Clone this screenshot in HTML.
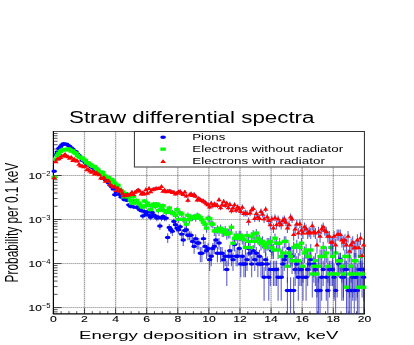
<!DOCTYPE html>
<html><head><meta charset="utf-8"><title>Straw differential spectra</title>
<style>html,body{margin:0;padding:0;background:#fff;}body{width:414px;height:345px;overflow:hidden;font-family:"Liberation Sans",sans-serif;}</style>
</head><body>
<svg width="414" height="345" viewBox="0 0 414 345" style="display:block" font-family="Liberation Sans, sans-serif">
<rect x="0" y="0" width="414" height="345" fill="#fff"/>
<filter id="b" x="0" y="0" width="100%" height="100%" filterUnits="userSpaceOnUse"><feGaussianBlur stdDeviation="0.45 0.3"/></filter>
<g filter="url(#b)">
<path d="M84.50 131.5V313.9M115.60 131.5V313.9M146.70 131.5V313.9M177.80 131.5V313.9M208.90 131.5V313.9M240.00 131.5V313.9M271.10 131.5V313.9M302.20 131.5V313.9M333.30 131.5V313.9" stroke="#000" stroke-width="1.3" stroke-dasharray="1.4 0.6" fill="none" opacity="0.36"/>
<path d="M53.4 307.59H364.4M53.4 263.56H364.4M53.4 219.53H364.4M53.4 175.50H364.4" stroke="#000" stroke-width="0.9" stroke-dasharray="1 1" fill="none" opacity="0.6"/>
<path d="M53.4 131.5H364.4" stroke="#444" stroke-width="0.9"/>
<path d="M364.4 131.5V313.9" stroke="#222" stroke-width="1.0"/>
<path d="M52.8 313.9H364.9" stroke="#000" stroke-width="1.1"/>
<path d="M53.4 131.1V313.9" stroke="#000" stroke-width="1.2"/>
<path d="M53.40 313.9v-5.6M61.17 313.9v-2.7M68.95 313.9v-2.7M76.72 313.9v-2.7M84.50 313.9v-5.6M92.28 313.9v-2.7M100.05 313.9v-2.7M107.82 313.9v-2.7M115.60 313.9v-5.6M123.38 313.9v-2.7M131.15 313.9v-2.7M138.93 313.9v-2.7M146.70 313.9v-5.6M154.47 313.9v-2.7M162.25 313.9v-2.7M170.03 313.9v-2.7M177.80 313.9v-5.6M185.58 313.9v-2.7M193.35 313.9v-2.7M201.12 313.9v-2.7M208.90 313.9v-5.6M216.68 313.9v-2.7M224.45 313.9v-2.7M232.22 313.9v-2.7M240.00 313.9v-5.6M247.78 313.9v-2.7M255.55 313.9v-2.7M263.32 313.9v-2.7M271.10 313.9v-5.6M278.88 313.9v-2.7M286.65 313.9v-2.7M294.43 313.9v-2.7M302.20 313.9v-5.6M309.97 313.9v-2.7M317.75 313.9v-2.7M325.52 313.9v-2.7M333.30 313.9v-5.6M341.07 313.9v-2.7M348.85 313.9v-2.7M356.62 313.9v-2.7M364.40 313.9v-5.6M53.4 311.86h4.2M53.4 309.60h4.2M53.4 307.59h8.2M53.4 294.34h4.2M53.4 286.58h4.2M53.4 281.08h4.2M53.4 276.81h4.2M53.4 273.33h4.2M53.4 270.38h4.2M53.4 267.83h4.2M53.4 265.57h4.2M53.4 263.56h8.2M53.4 250.31h4.2M53.4 242.55h4.2M53.4 237.05h4.2M53.4 232.78h4.2M53.4 229.30h4.2M53.4 226.35h4.2M53.4 223.80h4.2M53.4 221.54h4.2M53.4 219.53h8.2M53.4 206.28h4.2M53.4 198.52h4.2M53.4 193.02h4.2M53.4 188.75h4.2M53.4 185.27h4.2M53.4 182.32h4.2M53.4 179.77h4.2M53.4 177.51h4.2M53.4 175.50h8.2M53.4 162.25h4.2M53.4 154.49h4.2M53.4 148.99h4.2M53.4 144.72h4.2M53.4 141.24h4.2M53.4 138.29h4.2M53.4 135.74h4.2M53.4 133.48h4.2" stroke="#000" stroke-width="0.85" fill="none" opacity="0.8"/>
<clipPath id="c"><rect x="53.4" y="131.5" width="311.0" height="182.39999999999998"/></clipPath>
<g>
<path clip-path="url(#c)" d="M54.18 170.40V172.10M55.73 154.12V155.22M57.29 151.34V152.36M58.84 148.09V149.02M60.40 146.35V147.24M61.95 144.62V145.48M63.51 143.37V144.20M65.06 143.75V144.58M66.62 143.80V144.64M68.17 144.93V145.79M69.73 145.93V146.81M71.28 147.51V148.43M72.84 148.73V149.69M74.39 150.61V151.61M75.95 151.30V152.32M77.50 153.71V154.79M79.06 155.01V156.14M80.61 156.63V157.80M82.17 159.66V160.93M83.72 160.21V161.50M85.28 161.77V163.12M86.83 164.10V165.53M88.39 164.25V165.69M89.94 164.41V165.86M91.50 166.18V167.69M93.05 167.27V168.83M94.61 169.09V170.73M96.16 170.48V172.18M97.72 169.20V170.84M99.27 172.54V174.33M100.83 173.21V175.03M102.38 177.12V179.15M103.94 177.12V179.15M105.49 178.70V180.82M107.05 178.99V181.12M108.60 181.79V184.09M110.16 183.99V186.43M111.71 185.40V187.94M113.27 187.64V190.34M114.82 193.26V196.40M116.38 190.50V193.42M117.93 189.98V192.85M119.49 192.89V196.00M121.04 195.48V198.82M122.60 194.67V197.93M124.15 197.85V201.41M125.71 197.23V200.73M127.26 198.66V202.30M128.82 202.89V206.99M130.37 204.18V208.42M131.93 199.16V202.85M133.48 204.86V209.18M135.04 200.56V204.40M136.59 205.32V209.70M138.15 204.86V209.18M139.70 207.57V212.23M141.26 208.39V213.16M142.81 213.47V218.98M144.37 209.24V214.13M145.92 212.07V217.35M147.48 209.54V214.46M149.03 212.76V218.15M150.59 214.61V220.29M152.14 210.14V215.14M153.70 212.76V218.15M155.25 213.47V218.98M156.81 215.40V221.21M158.36 214.61V220.29M159.92 222.80V229.99M161.47 215.40V221.21M163.03 213.84V219.40M164.58 215.40V221.21M166.14 215.40V221.21M167.69 233.16V242.93M169.25 224.06V231.51M170.80 226.12V234.04M172.36 227.64V235.93M173.91 218.49V224.83M175.47 221.62V228.57M177.02 224.72V232.32M178.58 226.12V234.04M180.13 223.42V230.73M181.69 230.19V239.13M183.24 235.45V245.93M184.80 226.87V234.96M186.35 226.12V234.04M187.91 231.13V240.32M189.46 231.13V240.32M191.02 231.13V240.32M192.57 236.72V247.61M194.13 241.16V253.69M195.68 234.27V244.38M197.24 238.08V249.44M198.79 238.08V249.44M200.35 247.11V262.32M201.90 247.11V262.32M203.46 234.27V244.38M205.01 241.16V253.69M206.57 244.90V259.03M208.12 242.93V256.19M209.68 252.60V271.01M211.23 249.64V266.22M212.79 242.93V256.19M214.34 241.16V253.69M215.90 235.45V245.93M217.45 247.11V262.32M219.01 238.08V249.44M220.56 247.11V262.32M222.12 247.11V262.32M223.67 252.60V271.01M225.23 249.64V266.22M226.78 260.72V285.91M228.34 249.64V266.22M229.89 244.90V259.03M231.45 249.64V266.22M233.00 252.60V271.01M234.56 239.56V251.46M236.11 249.64V266.22M237.67 249.64V266.22M239.22 242.93V256.19M240.78 256.19V277.19M242.33 249.64V266.22M243.89 256.19V277.19M245.44 256.19V277.19M247.00 252.60V271.01M248.55 242.93V256.19M250.11 247.11V262.32M251.66 256.19V277.19M253.22 244.90V259.03M254.77 252.60V271.01M256.33 247.11V262.32M257.88 256.19V277.19M259.44 249.64V266.22M260.99 256.19V277.19M262.55 256.19V277.19M264.10 266.97V300.67M265.66 252.60V271.01M267.21 256.19V277.19M268.77 266.97V300.67M270.32 260.72V285.91M271.88 244.90V259.03M273.43 260.72V285.91M274.99 260.72V285.91M276.54 260.72V285.91M278.10 266.97V300.67M281.21 266.97V300.67M282.76 256.19V277.19M284.32 252.60V271.01M285.87 249.64V266.22M287.43 277.19V318.90M288.98 242.93V256.19M290.54 277.19V318.90M292.09 249.64V266.22M293.65 277.19V318.90M295.20 260.72V285.91M296.76 256.19V277.19M298.31 266.97V300.67M299.87 260.72V285.91M301.42 260.72V285.91M302.98 266.97V300.67M306.09 266.97V300.67M307.64 260.72V285.91M309.20 256.19V277.19M310.75 252.60V271.01M313.86 256.19V277.19M315.42 260.72V285.91M316.97 277.19V318.90M318.53 277.19V318.90M320.08 277.19V318.90M321.64 266.97V300.67M323.19 260.72V285.91M326.30 266.97V300.67M327.86 277.19V318.90M329.41 260.72V285.91M330.97 260.72V285.91M332.52 260.72V285.91M334.08 266.97V300.67M335.63 277.19V318.90M338.74 256.19V277.19M340.30 252.60V271.01M341.85 266.97V300.67M343.41 266.97V300.67M344.96 260.72V285.91M346.52 260.72V285.91M348.07 277.19V318.90M349.63 277.19V318.90M351.18 277.19V318.90M352.74 266.97V300.67M354.29 277.19V318.90M355.85 266.97V300.67M357.40 277.19V318.90M358.96 260.72V285.91M360.51 260.72V285.91M362.07 260.72V285.91M363.62 266.97V300.67" stroke="#2a2ab8" stroke-width="1.1" fill="none" opacity="0.74"/>
<g fill="#0000ff"><ellipse cx="54.18" cy="171.23" rx="2.85" ry="1.7"/><ellipse cx="55.73" cy="154.66" rx="2.85" ry="1.7"/><ellipse cx="57.29" cy="151.84" rx="2.85" ry="1.7"/><ellipse cx="58.84" cy="148.55" rx="2.85" ry="1.7"/><ellipse cx="60.40" cy="146.79" rx="2.85" ry="1.7"/><ellipse cx="61.95" cy="145.05" rx="2.85" ry="1.7"/><ellipse cx="63.51" cy="143.78" rx="2.85" ry="1.7"/><ellipse cx="65.06" cy="144.16" rx="2.85" ry="1.7"/><ellipse cx="66.62" cy="144.22" rx="2.85" ry="1.7"/><ellipse cx="68.17" cy="145.35" rx="2.85" ry="1.7"/><ellipse cx="69.73" cy="146.37" rx="2.85" ry="1.7"/><ellipse cx="71.28" cy="147.96" rx="2.85" ry="1.7"/><ellipse cx="72.84" cy="149.20" rx="2.85" ry="1.7"/><ellipse cx="74.39" cy="151.11" rx="2.85" ry="1.7"/><ellipse cx="75.95" cy="151.80" rx="2.85" ry="1.7"/><ellipse cx="77.50" cy="154.24" rx="2.85" ry="1.7"/><ellipse cx="79.06" cy="155.57" rx="2.85" ry="1.7"/><ellipse cx="80.61" cy="157.21" rx="2.85" ry="1.7"/><ellipse cx="82.17" cy="160.29" rx="2.85" ry="1.7"/><ellipse cx="83.72" cy="160.85" rx="2.85" ry="1.7"/><ellipse cx="85.28" cy="162.43" rx="2.85" ry="1.7"/><ellipse cx="86.83" cy="164.80" rx="2.85" ry="1.7"/><ellipse cx="88.39" cy="164.96" rx="2.85" ry="1.7"/><ellipse cx="89.94" cy="165.12" rx="2.85" ry="1.7"/><ellipse cx="91.50" cy="166.92" rx="2.85" ry="1.7"/><ellipse cx="93.05" cy="168.03" rx="2.85" ry="1.7"/><ellipse cx="94.61" cy="169.89" rx="2.85" ry="1.7"/><ellipse cx="96.16" cy="171.31" rx="2.85" ry="1.7"/><ellipse cx="97.72" cy="170.00" rx="2.85" ry="1.7"/><ellipse cx="99.27" cy="173.42" rx="2.85" ry="1.7"/><ellipse cx="100.83" cy="174.10" rx="2.85" ry="1.7"/><ellipse cx="102.38" cy="178.11" rx="2.85" ry="1.7"/><ellipse cx="103.94" cy="178.11" rx="2.85" ry="1.7"/><ellipse cx="105.49" cy="179.73" rx="2.85" ry="1.7"/><ellipse cx="107.05" cy="180.03" rx="2.85" ry="1.7"/><ellipse cx="108.60" cy="182.90" rx="2.85" ry="1.7"/><ellipse cx="110.16" cy="185.17" rx="2.85" ry="1.7"/><ellipse cx="111.71" cy="186.63" rx="2.85" ry="1.7"/><ellipse cx="113.27" cy="188.94" rx="2.85" ry="1.7"/><ellipse cx="114.82" cy="194.76" rx="2.85" ry="1.7"/><ellipse cx="116.38" cy="191.91" rx="2.85" ry="1.7"/><ellipse cx="117.93" cy="191.36" rx="2.85" ry="1.7"/><ellipse cx="119.49" cy="194.38" rx="2.85" ry="1.7"/><ellipse cx="121.04" cy="197.08" rx="2.85" ry="1.7"/><ellipse cx="122.60" cy="196.23" rx="2.85" ry="1.7"/><ellipse cx="124.15" cy="199.55" rx="2.85" ry="1.7"/><ellipse cx="125.71" cy="198.90" rx="2.85" ry="1.7"/><ellipse cx="127.26" cy="200.39" rx="2.85" ry="1.7"/><ellipse cx="128.82" cy="204.83" rx="2.85" ry="1.7"/><ellipse cx="130.37" cy="206.18" rx="2.85" ry="1.7"/><ellipse cx="131.93" cy="200.92" rx="2.85" ry="1.7"/><ellipse cx="133.48" cy="206.89" rx="2.85" ry="1.7"/><ellipse cx="135.04" cy="202.39" rx="2.85" ry="1.7"/><ellipse cx="136.59" cy="207.39" rx="2.85" ry="1.7"/><ellipse cx="138.15" cy="206.89" rx="2.85" ry="1.7"/><ellipse cx="139.70" cy="209.76" rx="2.85" ry="1.7"/><ellipse cx="141.26" cy="210.62" rx="2.85" ry="1.7"/><ellipse cx="142.81" cy="216.03" rx="2.85" ry="1.7"/><ellipse cx="144.37" cy="211.53" rx="2.85" ry="1.7"/><ellipse cx="145.92" cy="214.53" rx="2.85" ry="1.7"/><ellipse cx="147.48" cy="211.84" rx="2.85" ry="1.7"/><ellipse cx="149.03" cy="215.26" rx="2.85" ry="1.7"/><ellipse cx="150.59" cy="217.24" rx="2.85" ry="1.7"/><ellipse cx="152.14" cy="212.48" rx="2.85" ry="1.7"/><ellipse cx="153.70" cy="215.26" rx="2.85" ry="1.7"/><ellipse cx="155.25" cy="216.03" rx="2.85" ry="1.7"/><ellipse cx="156.81" cy="218.09" rx="2.85" ry="1.7"/><ellipse cx="158.36" cy="217.24" rx="2.85" ry="1.7"/><ellipse cx="159.92" cy="226.06" rx="2.85" ry="1.7"/><ellipse cx="161.47" cy="218.09" rx="2.85" ry="1.7"/><ellipse cx="163.03" cy="216.42" rx="2.85" ry="1.7"/><ellipse cx="164.58" cy="218.09" rx="2.85" ry="1.7"/><ellipse cx="166.14" cy="218.09" rx="2.85" ry="1.7"/><ellipse cx="167.69" cy="237.43" rx="2.85" ry="1.7"/><ellipse cx="169.25" cy="227.42" rx="2.85" ry="1.7"/><ellipse cx="170.80" cy="229.68" rx="2.85" ry="1.7"/><ellipse cx="172.36" cy="231.34" rx="2.85" ry="1.7"/><ellipse cx="173.91" cy="221.40" rx="2.85" ry="1.7"/><ellipse cx="175.47" cy="224.78" rx="2.85" ry="1.7"/><ellipse cx="177.02" cy="228.15" rx="2.85" ry="1.7"/><ellipse cx="178.58" cy="229.68" rx="2.85" ry="1.7"/><ellipse cx="180.13" cy="226.73" rx="2.85" ry="1.7"/><ellipse cx="181.69" cy="234.14" rx="2.85" ry="1.7"/><ellipse cx="183.24" cy="239.98" rx="2.85" ry="1.7"/><ellipse cx="184.80" cy="230.49" rx="2.85" ry="1.7"/><ellipse cx="186.35" cy="229.68" rx="2.85" ry="1.7"/><ellipse cx="187.91" cy="235.18" rx="2.85" ry="1.7"/><ellipse cx="189.46" cy="235.18" rx="2.85" ry="1.7"/><ellipse cx="191.02" cy="235.18" rx="2.85" ry="1.7"/><ellipse cx="192.57" cy="241.40" rx="2.85" ry="1.7"/><ellipse cx="194.13" cy="246.42" rx="2.85" ry="1.7"/><ellipse cx="195.68" cy="238.66" rx="2.85" ry="1.7"/><ellipse cx="197.24" cy="242.93" rx="2.85" ry="1.7"/><ellipse cx="198.79" cy="242.93" rx="2.85" ry="1.7"/><ellipse cx="200.35" cy="253.24" rx="2.85" ry="1.7"/><ellipse cx="201.90" cy="253.24" rx="2.85" ry="1.7"/><ellipse cx="203.46" cy="238.66" rx="2.85" ry="1.7"/><ellipse cx="205.01" cy="246.42" rx="2.85" ry="1.7"/><ellipse cx="206.57" cy="250.68" rx="2.85" ry="1.7"/><ellipse cx="208.12" cy="248.43" rx="2.85" ry="1.7"/><ellipse cx="209.68" cy="259.67" rx="2.85" ry="1.7"/><ellipse cx="211.23" cy="256.19" rx="2.85" ry="1.7"/><ellipse cx="212.79" cy="248.43" rx="2.85" ry="1.7"/><ellipse cx="214.34" cy="246.42" rx="2.85" ry="1.7"/><ellipse cx="215.90" cy="239.98" rx="2.85" ry="1.7"/><ellipse cx="217.45" cy="253.24" rx="2.85" ry="1.7"/><ellipse cx="219.01" cy="242.93" rx="2.85" ry="1.7"/><ellipse cx="220.56" cy="253.24" rx="2.85" ry="1.7"/><ellipse cx="222.12" cy="253.24" rx="2.85" ry="1.7"/><ellipse cx="223.67" cy="259.67" rx="2.85" ry="1.7"/><ellipse cx="225.23" cy="256.19" rx="2.85" ry="1.7"/><ellipse cx="226.78" cy="269.44" rx="2.85" ry="1.7"/><ellipse cx="228.34" cy="256.19" rx="2.85" ry="1.7"/><ellipse cx="229.89" cy="250.68" rx="2.85" ry="1.7"/><ellipse cx="231.45" cy="256.19" rx="2.85" ry="1.7"/><ellipse cx="233.00" cy="259.67" rx="2.85" ry="1.7"/><ellipse cx="234.56" cy="244.59" rx="2.85" ry="1.7"/><ellipse cx="236.11" cy="256.19" rx="2.85" ry="1.7"/><ellipse cx="237.67" cy="256.19" rx="2.85" ry="1.7"/><ellipse cx="239.22" cy="248.43" rx="2.85" ry="1.7"/><ellipse cx="240.78" cy="263.94" rx="2.85" ry="1.7"/><ellipse cx="242.33" cy="256.19" rx="2.85" ry="1.7"/><ellipse cx="243.89" cy="263.94" rx="2.85" ry="1.7"/><ellipse cx="245.44" cy="263.94" rx="2.85" ry="1.7"/><ellipse cx="247.00" cy="259.67" rx="2.85" ry="1.7"/><ellipse cx="248.55" cy="248.43" rx="2.85" ry="1.7"/><ellipse cx="250.11" cy="253.24" rx="2.85" ry="1.7"/><ellipse cx="251.66" cy="263.94" rx="2.85" ry="1.7"/><ellipse cx="253.22" cy="250.68" rx="2.85" ry="1.7"/><ellipse cx="254.77" cy="259.67" rx="2.85" ry="1.7"/><ellipse cx="256.33" cy="253.24" rx="2.85" ry="1.7"/><ellipse cx="257.88" cy="263.94" rx="2.85" ry="1.7"/><ellipse cx="259.44" cy="256.19" rx="2.85" ry="1.7"/><ellipse cx="260.99" cy="263.94" rx="2.85" ry="1.7"/><ellipse cx="262.55" cy="263.94" rx="2.85" ry="1.7"/><ellipse cx="264.10" cy="277.19" rx="2.85" ry="1.7"/><ellipse cx="265.66" cy="259.67" rx="2.85" ry="1.7"/><ellipse cx="267.21" cy="263.94" rx="2.85" ry="1.7"/><ellipse cx="268.77" cy="277.19" rx="2.85" ry="1.7"/><ellipse cx="270.32" cy="269.44" rx="2.85" ry="1.7"/><ellipse cx="271.88" cy="250.68" rx="2.85" ry="1.7"/><ellipse cx="273.43" cy="269.44" rx="2.85" ry="1.7"/><ellipse cx="274.99" cy="269.44" rx="2.85" ry="1.7"/><ellipse cx="276.54" cy="269.44" rx="2.85" ry="1.7"/><ellipse cx="278.10" cy="277.19" rx="2.85" ry="1.7"/><ellipse cx="281.21" cy="277.19" rx="2.85" ry="1.7"/><ellipse cx="282.76" cy="263.94" rx="2.85" ry="1.7"/><ellipse cx="284.32" cy="259.67" rx="2.85" ry="1.7"/><ellipse cx="285.87" cy="256.19" rx="2.85" ry="1.7"/><ellipse cx="287.43" cy="290.45" rx="2.85" ry="1.7"/><ellipse cx="288.98" cy="248.43" rx="2.85" ry="1.7"/><ellipse cx="290.54" cy="290.45" rx="2.85" ry="1.7"/><ellipse cx="292.09" cy="256.19" rx="2.85" ry="1.7"/><ellipse cx="293.65" cy="290.45" rx="2.85" ry="1.7"/><ellipse cx="295.20" cy="269.44" rx="2.85" ry="1.7"/><ellipse cx="296.76" cy="263.94" rx="2.85" ry="1.7"/><ellipse cx="298.31" cy="277.19" rx="2.85" ry="1.7"/><ellipse cx="299.87" cy="269.44" rx="2.85" ry="1.7"/><ellipse cx="301.42" cy="269.44" rx="2.85" ry="1.7"/><ellipse cx="302.98" cy="277.19" rx="2.85" ry="1.7"/><ellipse cx="306.09" cy="277.19" rx="2.85" ry="1.7"/><ellipse cx="307.64" cy="269.44" rx="2.85" ry="1.7"/><ellipse cx="309.20" cy="263.94" rx="2.85" ry="1.7"/><ellipse cx="310.75" cy="259.67" rx="2.85" ry="1.7"/><ellipse cx="313.86" cy="263.94" rx="2.85" ry="1.7"/><ellipse cx="315.42" cy="269.44" rx="2.85" ry="1.7"/><ellipse cx="316.97" cy="290.45" rx="2.85" ry="1.7"/><ellipse cx="318.53" cy="290.45" rx="2.85" ry="1.7"/><ellipse cx="320.08" cy="290.45" rx="2.85" ry="1.7"/><ellipse cx="321.64" cy="277.19" rx="2.85" ry="1.7"/><ellipse cx="323.19" cy="269.44" rx="2.85" ry="1.7"/><ellipse cx="326.30" cy="277.19" rx="2.85" ry="1.7"/><ellipse cx="327.86" cy="290.45" rx="2.85" ry="1.7"/><ellipse cx="329.41" cy="269.44" rx="2.85" ry="1.7"/><ellipse cx="330.97" cy="269.44" rx="2.85" ry="1.7"/><ellipse cx="332.52" cy="269.44" rx="2.85" ry="1.7"/><ellipse cx="334.08" cy="277.19" rx="2.85" ry="1.7"/><ellipse cx="335.63" cy="290.45" rx="2.85" ry="1.7"/><ellipse cx="338.74" cy="263.94" rx="2.85" ry="1.7"/><ellipse cx="340.30" cy="259.67" rx="2.85" ry="1.7"/><ellipse cx="341.85" cy="277.19" rx="2.85" ry="1.7"/><ellipse cx="343.41" cy="277.19" rx="2.85" ry="1.7"/><ellipse cx="344.96" cy="269.44" rx="2.85" ry="1.7"/><ellipse cx="346.52" cy="269.44" rx="2.85" ry="1.7"/><ellipse cx="348.07" cy="290.45" rx="2.85" ry="1.7"/><ellipse cx="349.63" cy="290.45" rx="2.85" ry="1.7"/><ellipse cx="351.18" cy="290.45" rx="2.85" ry="1.7"/><ellipse cx="352.74" cy="277.19" rx="2.85" ry="1.7"/><ellipse cx="354.29" cy="290.45" rx="2.85" ry="1.7"/><ellipse cx="355.85" cy="277.19" rx="2.85" ry="1.7"/><ellipse cx="357.40" cy="290.45" rx="2.85" ry="1.7"/><ellipse cx="358.96" cy="269.44" rx="2.85" ry="1.7"/><ellipse cx="360.51" cy="269.44" rx="2.85" ry="1.7"/><ellipse cx="362.07" cy="269.44" rx="2.85" ry="1.7"/><ellipse cx="363.62" cy="277.19" rx="2.85" ry="1.7"/></g>
<path clip-path="url(#c)" d="M54.18 176.25V178.41M55.73 158.45V159.79M57.29 154.94V156.16M58.84 152.91V154.07M60.40 150.84V151.94M61.95 149.67V150.73M63.51 148.86V149.90M65.06 149.19V150.24M66.62 149.19V150.24M68.17 148.35V149.37M69.73 149.18V150.23M71.28 150.59V151.68M72.84 150.26V151.34M74.39 152.07V153.20M75.95 152.83V153.98M77.50 154.95V156.18M79.06 156.29V157.56M80.61 156.83V158.12M82.17 157.52V158.83M83.72 158.78V160.13M85.28 159.89V161.28M86.83 161.92V163.39M88.39 162.31V163.80M89.94 163.72V165.26M91.50 164.53V166.11M93.05 165.58V167.20M94.61 165.89V167.52M96.16 167.83V169.56M97.72 169.05V170.83M99.27 171.93V173.85M100.83 171.05V172.93M102.38 171.51V173.41M103.94 174.39V176.44M105.49 175.33V177.43M107.05 176.25V178.41M108.60 176.61V178.79M110.16 179.83V182.21M111.71 178.38V180.67M113.27 179.90V182.29M114.82 181.87V184.39M116.38 183.89V186.55M117.93 184.07V186.74M119.49 187.73V190.68M121.04 189.20V192.27M122.60 190.42V193.60M124.15 195.12V198.73M125.71 192.00V195.31M127.26 194.80V198.38M128.82 195.12V198.73M130.37 198.29V202.23M131.93 201.19V205.46M133.48 194.96V198.56M135.04 200.53V204.72M136.59 198.49V202.44M138.15 200.97V205.21M139.70 202.11V206.49M141.26 203.84V208.43M142.81 204.91V209.64M144.37 199.08V203.10M145.92 203.58V208.14M147.48 201.19V205.46M149.03 203.08V207.58M150.59 207.24V212.29M152.14 203.58V208.14M153.70 202.11V206.49M155.25 204.37V209.03M156.81 201.88V206.23M158.36 208.19V213.38M159.92 203.33V207.86M161.47 206.03V210.92M163.03 203.58V208.14M164.58 208.19V213.38M166.14 209.91V215.35M167.69 208.19V213.38M169.25 205.75V210.59M170.80 209.91V215.35M172.36 209.91V215.35M173.91 211.01V216.63M175.47 212.60V218.48M177.02 207.24V212.29M178.58 216.27V222.80M180.13 210.27V215.77M181.69 211.40V217.08M183.24 216.27V222.80M184.80 216.78V223.41M186.35 220.85V228.30M187.91 212.60V218.48M189.46 216.78V223.41M191.02 214.35V220.52M192.57 214.81V221.07M194.13 213.89V219.99M195.68 215.28V221.63M197.24 212.60V218.48M198.79 213.45V219.48M200.35 214.81V221.07M201.90 216.78V223.41M203.46 219.00V226.06M205.01 220.85V228.30M206.57 224.44V232.72M208.12 215.28V221.63M209.68 215.77V222.20M211.23 220.21V227.53M212.79 220.85V228.30M214.34 226.99V235.92M215.90 226.99V235.92M217.45 225.25V233.73M219.01 226.99V235.92M220.56 224.44V232.72M222.12 227.92V237.11M223.67 227.92V237.11M225.23 226.10V234.80M226.78 229.96V239.72M228.34 228.91V238.38M229.89 228.91V238.38M231.45 223.66V231.75M233.00 237.96V250.48M234.56 233.51V244.40M236.11 231.06V241.17M237.67 233.51V244.40M239.22 231.06V241.17M240.78 231.06V241.17M242.33 233.51V244.40M243.89 234.87V246.24M245.44 241.69V255.82M247.00 231.06V241.17M248.55 236.35V248.25M250.11 241.69V255.82M251.66 232.25V242.72M253.22 229.96V239.72M254.77 236.35V248.25M256.33 228.91V238.38M257.88 233.51V244.40M259.44 234.87V246.24M260.99 237.96V250.48M262.55 236.35V248.25M264.10 239.72V252.98M265.66 241.69V255.82M267.21 237.96V250.48M268.77 237.96V250.48M270.32 236.35V248.25M271.88 241.69V255.82M273.43 243.90V259.11M274.99 233.51V244.40M276.54 237.96V250.48M278.10 243.90V259.11M279.65 237.96V250.48M281.21 249.40V267.80M282.76 246.43V263.01M284.32 236.35V248.25M285.87 236.35V248.25M287.43 257.52V282.70M288.98 246.43V263.01M290.54 249.40V267.80M292.09 252.98V273.99M293.65 241.69V255.82M295.20 252.98V273.99M296.76 239.72V252.98M298.31 252.98V273.99M299.87 241.69V255.82M301.42 237.96V250.48M302.98 257.52V282.70M304.53 246.43V263.01M306.09 243.90V259.11M307.64 249.40V267.80M309.20 249.40V267.80M310.75 243.90V259.11M312.31 263.76V297.47M313.86 257.52V282.70M315.42 252.98V273.99M316.97 263.76V297.47M318.53 257.52V282.70M320.08 249.40V267.80M321.64 249.40V267.80M323.19 241.69V255.82M324.75 249.40V267.80M326.30 246.43V263.01M327.86 257.52V282.70M329.41 263.76V297.47M330.97 241.69V255.82M332.52 249.40V267.80M334.08 263.76V297.47M335.63 246.43V263.01M337.19 263.76V297.47M338.74 252.98V273.99M340.30 252.98V273.99M341.85 257.52V282.70M343.41 263.76V297.47M344.96 249.40V267.80M346.52 273.99V318.90M348.07 249.40V267.80M349.63 263.76V297.47M351.18 257.52V282.70M352.74 263.76V297.47M354.29 252.98V273.99M355.85 252.98V273.99M357.40 263.76V297.47M358.96 273.99V318.90M360.51 249.40V267.80M362.07 263.76V297.47M363.62 273.99V318.90" stroke="#2a2ab8" stroke-width="1.1" fill="none" opacity="0.74"/>
<g fill="#00ff00"><rect x="51.43" y="175.65" width="5.5" height="3.3"/><rect x="52.98" y="157.46" width="5.5" height="3.3"/><rect x="54.54" y="153.89" width="5.5" height="3.3"/><rect x="56.09" y="151.83" width="5.5" height="3.3"/><rect x="57.65" y="149.73" width="5.5" height="3.3"/><rect x="59.20" y="148.54" width="5.5" height="3.3"/><rect x="60.76" y="147.72" width="5.5" height="3.3"/><rect x="62.31" y="148.06" width="5.5" height="3.3"/><rect x="63.87" y="148.06" width="5.5" height="3.3"/><rect x="65.42" y="147.20" width="5.5" height="3.3"/><rect x="66.98" y="148.05" width="5.5" height="3.3"/><rect x="68.53" y="149.48" width="5.5" height="3.3"/><rect x="70.09" y="149.14" width="5.5" height="3.3"/><rect x="71.64" y="150.98" width="5.5" height="3.3"/><rect x="73.20" y="151.75" width="5.5" height="3.3"/><rect x="74.75" y="153.91" width="5.5" height="3.3"/><rect x="76.31" y="155.26" width="5.5" height="3.3"/><rect x="77.86" y="155.81" width="5.5" height="3.3"/><rect x="79.42" y="156.52" width="5.5" height="3.3"/><rect x="80.97" y="157.79" width="5.5" height="3.3"/><rect x="82.53" y="158.92" width="5.5" height="3.3"/><rect x="84.08" y="160.99" width="5.5" height="3.3"/><rect x="85.64" y="161.39" width="5.5" height="3.3"/><rect x="87.19" y="162.83" width="5.5" height="3.3"/><rect x="88.75" y="163.65" width="5.5" height="3.3"/><rect x="90.30" y="164.72" width="5.5" height="3.3"/><rect x="91.86" y="165.04" width="5.5" height="3.3"/><rect x="93.41" y="167.02" width="5.5" height="3.3"/><rect x="94.97" y="168.27" width="5.5" height="3.3"/><rect x="96.52" y="171.21" width="5.5" height="3.3"/><rect x="98.08" y="170.32" width="5.5" height="3.3"/><rect x="99.63" y="170.78" width="5.5" height="3.3"/><rect x="101.19" y="173.74" width="5.5" height="3.3"/><rect x="102.74" y="174.70" width="5.5" height="3.3"/><rect x="104.30" y="175.65" width="5.5" height="3.3"/><rect x="105.85" y="176.02" width="5.5" height="3.3"/><rect x="107.41" y="179.33" width="5.5" height="3.3"/><rect x="108.96" y="177.84" width="5.5" height="3.3"/><rect x="110.52" y="179.41" width="5.5" height="3.3"/><rect x="112.07" y="181.44" width="5.5" height="3.3"/><rect x="113.63" y="183.53" width="5.5" height="3.3"/><rect x="115.18" y="183.71" width="5.5" height="3.3"/><rect x="116.74" y="187.50" width="5.5" height="3.3"/><rect x="118.29" y="189.03" width="5.5" height="3.3"/><rect x="119.85" y="190.29" width="5.5" height="3.3"/><rect x="121.40" y="195.19" width="5.5" height="3.3"/><rect x="122.96" y="191.93" width="5.5" height="3.3"/><rect x="124.51" y="194.86" width="5.5" height="3.3"/><rect x="126.07" y="195.19" width="5.5" height="3.3"/><rect x="127.62" y="198.51" width="5.5" height="3.3"/><rect x="129.18" y="201.56" width="5.5" height="3.3"/><rect x="130.73" y="195.02" width="5.5" height="3.3"/><rect x="132.29" y="200.86" width="5.5" height="3.3"/><rect x="133.84" y="198.71" width="5.5" height="3.3"/><rect x="135.40" y="201.32" width="5.5" height="3.3"/><rect x="136.95" y="202.53" width="5.5" height="3.3"/><rect x="138.51" y="204.35" width="5.5" height="3.3"/><rect x="140.06" y="205.48" width="5.5" height="3.3"/><rect x="141.62" y="199.33" width="5.5" height="3.3"/><rect x="143.17" y="204.08" width="5.5" height="3.3"/><rect x="144.73" y="201.56" width="5.5" height="3.3"/><rect x="146.28" y="203.55" width="5.5" height="3.3"/><rect x="147.84" y="207.95" width="5.5" height="3.3"/><rect x="149.39" y="204.08" width="5.5" height="3.3"/><rect x="150.95" y="202.53" width="5.5" height="3.3"/><rect x="152.50" y="204.90" width="5.5" height="3.3"/><rect x="154.06" y="202.28" width="5.5" height="3.3"/><rect x="155.61" y="208.96" width="5.5" height="3.3"/><rect x="157.17" y="203.81" width="5.5" height="3.3"/><rect x="158.72" y="206.67" width="5.5" height="3.3"/><rect x="160.28" y="204.08" width="5.5" height="3.3"/><rect x="161.83" y="208.96" width="5.5" height="3.3"/><rect x="163.39" y="210.78" width="5.5" height="3.3"/><rect x="164.94" y="208.96" width="5.5" height="3.3"/><rect x="166.50" y="206.37" width="5.5" height="3.3"/><rect x="168.05" y="210.78" width="5.5" height="3.3"/><rect x="169.61" y="210.78" width="5.5" height="3.3"/><rect x="171.16" y="211.97" width="5.5" height="3.3"/><rect x="172.72" y="213.67" width="5.5" height="3.3"/><rect x="174.27" y="207.95" width="5.5" height="3.3"/><rect x="175.83" y="217.60" width="5.5" height="3.3"/><rect x="177.38" y="211.17" width="5.5" height="3.3"/><rect x="178.94" y="212.38" width="5.5" height="3.3"/><rect x="180.49" y="217.60" width="5.5" height="3.3"/><rect x="182.05" y="218.16" width="5.5" height="3.3"/><rect x="183.60" y="222.57" width="5.5" height="3.3"/><rect x="185.16" y="213.67" width="5.5" height="3.3"/><rect x="186.71" y="218.16" width="5.5" height="3.3"/><rect x="188.27" y="215.54" width="5.5" height="3.3"/><rect x="189.82" y="216.03" width="5.5" height="3.3"/><rect x="191.38" y="215.05" width="5.5" height="3.3"/><rect x="192.93" y="216.54" width="5.5" height="3.3"/><rect x="194.49" y="213.67" width="5.5" height="3.3"/><rect x="196.04" y="214.58" width="5.5" height="3.3"/><rect x="197.60" y="216.03" width="5.5" height="3.3"/><rect x="199.15" y="218.16" width="5.5" height="3.3"/><rect x="200.71" y="220.55" width="5.5" height="3.3"/><rect x="202.26" y="222.57" width="5.5" height="3.3"/><rect x="203.82" y="226.48" width="5.5" height="3.3"/><rect x="205.37" y="216.54" width="5.5" height="3.3"/><rect x="206.93" y="217.07" width="5.5" height="3.3"/><rect x="208.48" y="221.87" width="5.5" height="3.3"/><rect x="210.04" y="222.57" width="5.5" height="3.3"/><rect x="211.59" y="229.29" width="5.5" height="3.3"/><rect x="213.15" y="229.29" width="5.5" height="3.3"/><rect x="214.70" y="227.37" width="5.5" height="3.3"/><rect x="216.26" y="229.29" width="5.5" height="3.3"/><rect x="217.81" y="226.48" width="5.5" height="3.3"/><rect x="219.37" y="230.32" width="5.5" height="3.3"/><rect x="220.92" y="230.32" width="5.5" height="3.3"/><rect x="222.48" y="228.31" width="5.5" height="3.3"/><rect x="224.03" y="232.57" width="5.5" height="3.3"/><rect x="225.59" y="231.41" width="5.5" height="3.3"/><rect x="227.14" y="231.41" width="5.5" height="3.3"/><rect x="228.70" y="225.63" width="5.5" height="3.3"/><rect x="230.25" y="241.56" width="5.5" height="3.3"/><rect x="231.81" y="236.54" width="5.5" height="3.3"/><rect x="233.36" y="233.81" width="5.5" height="3.3"/><rect x="234.92" y="236.54" width="5.5" height="3.3"/><rect x="236.47" y="233.81" width="5.5" height="3.3"/><rect x="238.03" y="233.81" width="5.5" height="3.3"/><rect x="239.58" y="236.54" width="5.5" height="3.3"/><rect x="241.14" y="238.07" width="5.5" height="3.3"/><rect x="242.69" y="245.83" width="5.5" height="3.3"/><rect x="244.25" y="233.81" width="5.5" height="3.3"/><rect x="245.80" y="239.74" width="5.5" height="3.3"/><rect x="247.36" y="245.83" width="5.5" height="3.3"/><rect x="248.91" y="235.13" width="5.5" height="3.3"/><rect x="250.47" y="232.57" width="5.5" height="3.3"/><rect x="252.02" y="239.74" width="5.5" height="3.3"/><rect x="253.58" y="231.41" width="5.5" height="3.3"/><rect x="255.13" y="236.54" width="5.5" height="3.3"/><rect x="256.69" y="238.07" width="5.5" height="3.3"/><rect x="258.24" y="241.56" width="5.5" height="3.3"/><rect x="259.80" y="239.74" width="5.5" height="3.3"/><rect x="261.35" y="243.57" width="5.5" height="3.3"/><rect x="262.91" y="245.83" width="5.5" height="3.3"/><rect x="264.46" y="241.56" width="5.5" height="3.3"/><rect x="266.02" y="241.56" width="5.5" height="3.3"/><rect x="267.57" y="239.74" width="5.5" height="3.3"/><rect x="269.13" y="245.83" width="5.5" height="3.3"/><rect x="270.68" y="248.38" width="5.5" height="3.3"/><rect x="272.24" y="236.54" width="5.5" height="3.3"/><rect x="273.79" y="241.56" width="5.5" height="3.3"/><rect x="275.35" y="248.38" width="5.5" height="3.3"/><rect x="276.90" y="241.56" width="5.5" height="3.3"/><rect x="278.46" y="254.81" width="5.5" height="3.3"/><rect x="280.01" y="251.33" width="5.5" height="3.3"/><rect x="281.57" y="239.74" width="5.5" height="3.3"/><rect x="283.12" y="239.74" width="5.5" height="3.3"/><rect x="284.68" y="264.58" width="5.5" height="3.3"/><rect x="286.23" y="251.33" width="5.5" height="3.3"/><rect x="287.79" y="254.81" width="5.5" height="3.3"/><rect x="289.34" y="259.08" width="5.5" height="3.3"/><rect x="290.90" y="245.83" width="5.5" height="3.3"/><rect x="292.45" y="259.08" width="5.5" height="3.3"/><rect x="294.01" y="243.57" width="5.5" height="3.3"/><rect x="295.56" y="259.08" width="5.5" height="3.3"/><rect x="297.12" y="245.83" width="5.5" height="3.3"/><rect x="298.67" y="241.56" width="5.5" height="3.3"/><rect x="300.23" y="264.58" width="5.5" height="3.3"/><rect x="301.78" y="251.33" width="5.5" height="3.3"/><rect x="303.34" y="248.38" width="5.5" height="3.3"/><rect x="304.89" y="254.81" width="5.5" height="3.3"/><rect x="306.45" y="254.81" width="5.5" height="3.3"/><rect x="308.00" y="248.38" width="5.5" height="3.3"/><rect x="309.56" y="272.34" width="5.5" height="3.3"/><rect x="311.11" y="264.58" width="5.5" height="3.3"/><rect x="312.67" y="259.08" width="5.5" height="3.3"/><rect x="314.22" y="272.34" width="5.5" height="3.3"/><rect x="315.78" y="264.58" width="5.5" height="3.3"/><rect x="317.33" y="254.81" width="5.5" height="3.3"/><rect x="318.89" y="254.81" width="5.5" height="3.3"/><rect x="320.44" y="245.83" width="5.5" height="3.3"/><rect x="322.00" y="254.81" width="5.5" height="3.3"/><rect x="323.55" y="251.33" width="5.5" height="3.3"/><rect x="325.11" y="264.58" width="5.5" height="3.3"/><rect x="326.66" y="272.34" width="5.5" height="3.3"/><rect x="328.22" y="245.83" width="5.5" height="3.3"/><rect x="329.77" y="254.81" width="5.5" height="3.3"/><rect x="331.33" y="272.34" width="5.5" height="3.3"/><rect x="332.88" y="251.33" width="5.5" height="3.3"/><rect x="334.44" y="272.34" width="5.5" height="3.3"/><rect x="335.99" y="259.08" width="5.5" height="3.3"/><rect x="337.55" y="259.08" width="5.5" height="3.3"/><rect x="339.10" y="264.58" width="5.5" height="3.3"/><rect x="340.66" y="272.34" width="5.5" height="3.3"/><rect x="342.21" y="254.81" width="5.5" height="3.3"/><rect x="343.77" y="285.59" width="5.5" height="3.3"/><rect x="345.32" y="254.81" width="5.5" height="3.3"/><rect x="346.88" y="272.34" width="5.5" height="3.3"/><rect x="348.43" y="264.58" width="5.5" height="3.3"/><rect x="349.99" y="272.34" width="5.5" height="3.3"/><rect x="351.54" y="259.08" width="5.5" height="3.3"/><rect x="353.10" y="259.08" width="5.5" height="3.3"/><rect x="354.65" y="272.34" width="5.5" height="3.3"/><rect x="356.21" y="285.59" width="5.5" height="3.3"/><rect x="357.76" y="254.81" width="5.5" height="3.3"/><rect x="359.32" y="272.34" width="5.5" height="3.3"/><rect x="360.87" y="285.59" width="5.5" height="3.3"/></g>
<path clip-path="url(#c)" d="M54.18 176.30V178.81M55.73 160.55V162.18M57.29 157.89V159.42M58.84 157.77V159.29M60.40 156.48V157.95M61.95 154.96V156.37M63.51 154.73V156.14M65.06 153.30V154.65M66.62 155.06V156.48M68.17 155.80V157.24M69.73 157.24V158.74M71.28 156.34V157.81M72.84 159.35V160.93M74.39 158.31V159.86M75.95 159.57V161.17M77.50 159.97V161.58M79.06 163.12V164.87M80.61 164.55V166.37M82.17 164.76V166.60M83.72 165.51V167.38M85.28 165.15V167.01M86.83 168.56V170.59M88.39 167.99V169.99M89.94 169.75V171.85M91.50 170.90V173.07M93.05 169.86V171.96M94.61 172.58V174.84M96.16 171.51V173.70M97.72 172.38V174.64M99.27 173.38V175.69M100.83 176.46V178.98M102.38 177.03V179.58M103.94 175.91V178.39M105.49 179.58V182.32M107.05 179.21V181.92M108.60 179.21V181.92M110.16 182.43V185.39M111.71 183.91V186.99M113.27 185.27V188.46M114.82 184.76V187.91M116.38 188.46V191.95M117.93 186.32V189.61M119.49 189.24V192.80M121.04 188.16V191.62M122.60 191.06V194.80M124.15 193.47V197.47M125.71 193.08V197.04M127.26 192.69V196.61M128.82 192.88V196.82M130.37 191.95V195.79M131.93 190.21V193.86M133.48 192.32V196.19M135.04 190.21V193.86M136.59 189.08V192.62M138.15 188.01V191.46M139.70 188.92V192.45M141.26 191.77V195.59M142.81 190.71V194.42M144.37 191.77V195.59M145.92 187.72V191.14M147.48 191.06V194.80M149.03 186.59V189.90M150.59 189.72V193.32M152.14 187.87V191.30M153.70 187.43V190.82M155.25 186.87V190.20M156.81 186.73V190.05M158.36 186.73V190.05M159.92 186.73V190.05M161.47 184.64V187.78M163.03 189.24V192.80M164.58 188.16V191.62M166.14 189.72V193.32M167.69 189.24V192.80M169.25 189.08V192.62M170.80 189.24V192.80M172.36 190.37V194.05M173.91 190.37V194.05M175.47 191.77V195.59M177.02 190.88V194.61M178.58 189.72V193.32M180.13 189.55V193.15M181.69 191.23V194.99M183.24 192.32V196.19M184.80 190.04V193.68M186.35 193.87V197.92M187.91 197.92V202.45M189.46 192.69V196.61M191.02 191.77V195.59M192.57 193.27V197.25M194.13 192.32V196.19M195.68 194.07V198.14M197.24 197.67V202.17M198.79 196.24V200.56M200.35 197.43V201.89M201.90 198.18V202.74M203.46 198.69V203.32M205.01 199.77V204.54M206.57 201.22V206.18M208.12 202.14V207.24M209.68 204.14V209.53M211.23 200.63V205.51M212.79 203.11V208.35M214.34 201.52V206.53M215.90 202.14V207.24M217.45 202.78V207.97M219.01 197.43V201.89M220.56 204.86V210.36M222.12 202.14V207.24M223.67 198.96V203.62M225.23 202.78V207.97M226.78 200.63V205.51M228.34 204.86V210.36M229.89 201.83V206.88M231.45 207.62V213.56M233.00 205.23V210.79M234.56 202.14V207.24M236.11 207.20V213.07M237.67 204.14V209.53M239.22 205.99V211.67M240.78 208.49V214.58M242.33 204.50V209.94M243.89 210.36V216.79M245.44 209.87V216.22M247.00 210.36V216.79M248.55 217.51V225.43M250.11 209.87V216.22M251.66 206.78V212.59M253.22 205.61V211.22M254.77 214.80V222.12M256.33 210.36V216.79M257.88 213.59V220.65M259.44 214.80V222.12M260.99 208.49V214.58M262.55 210.86V217.39M264.10 215.44V222.90M265.66 206.38V212.13M267.21 213.59V220.65M268.77 216.79V224.55M270.32 220.69V229.39M271.88 215.44V222.90M273.43 223.50V232.97M274.99 214.18V221.37M276.54 220.69V229.39M278.10 215.44V222.90M279.65 219.03V227.31M281.21 220.69V229.39M282.76 216.79V224.55M284.32 215.44V222.90M285.87 218.25V226.35M287.43 223.50V232.97M288.98 220.69V229.39M290.54 213.59V220.65M292.09 215.44V222.90M293.65 229.47V240.83M295.20 224.55V234.31M296.76 219.84V228.32M298.31 228.10V239.00M299.87 219.84V228.32M301.42 225.66V235.76M302.98 228.10V239.00M304.53 222.51V231.70M306.09 224.55V234.31M307.64 228.10V239.00M309.20 226.84V237.31M310.75 228.10V239.00M312.31 221.58V230.51M313.86 226.84V237.31M315.42 228.10V239.00M316.97 238.49V253.70M318.53 226.84V237.31M320.08 230.94V242.84M321.64 224.55V234.31M323.19 222.51V231.70M324.75 225.66V235.76M326.30 226.84V237.31M327.86 230.94V242.84M329.41 230.94V242.84M330.97 236.28V250.41M332.52 236.28V250.41M334.08 230.94V242.84M335.63 238.49V253.70M337.19 229.47V240.83M338.74 229.47V240.83M340.30 229.47V240.83M341.85 234.31V247.57M343.41 236.28V250.41M344.96 234.31V247.57M346.52 238.49V253.70M348.07 230.94V242.84M349.63 243.99V262.39M351.18 238.49V253.70M352.74 236.28V250.41M354.29 241.02V257.60M355.85 241.02V257.60M357.40 234.31V247.57M358.96 241.02V257.60M360.51 232.55V245.07M362.07 247.57V268.58M363.62 238.49V253.70" stroke="#2a2ab8" stroke-width="1.1" fill="none" opacity="0.74"/>
<g fill="#ff0000"><path d="M51.33 179.31h5.7l-2.85 -3.8z"/><path d="M52.88 163.15h5.7l-2.85 -3.8z"/><path d="M54.44 160.44h5.7l-2.85 -3.8z"/><path d="M55.99 160.32h5.7l-2.85 -3.8z"/><path d="M57.55 159.00h5.7l-2.85 -3.8z"/><path d="M59.10 157.45h5.7l-2.85 -3.8z"/><path d="M60.66 157.22h5.7l-2.85 -3.8z"/><path d="M62.21 155.76h5.7l-2.85 -3.8z"/><path d="M63.77 157.56h5.7l-2.85 -3.8z"/><path d="M65.32 158.31h5.7l-2.85 -3.8z"/><path d="M66.88 159.78h5.7l-2.85 -3.8z"/><path d="M68.43 158.86h5.7l-2.85 -3.8z"/><path d="M69.99 161.92h5.7l-2.85 -3.8z"/><path d="M71.54 160.87h5.7l-2.85 -3.8z"/><path d="M73.10 162.16h5.7l-2.85 -3.8z"/><path d="M74.65 162.56h5.7l-2.85 -3.8z"/><path d="M76.21 165.78h5.7l-2.85 -3.8z"/><path d="M77.76 167.24h5.7l-2.85 -3.8z"/><path d="M79.32 167.46h5.7l-2.85 -3.8z"/><path d="M80.87 168.22h5.7l-2.85 -3.8z"/><path d="M82.43 167.86h5.7l-2.85 -3.8z"/><path d="M83.98 171.34h5.7l-2.85 -3.8z"/><path d="M85.54 170.76h5.7l-2.85 -3.8z"/><path d="M87.09 172.57h5.7l-2.85 -3.8z"/><path d="M88.65 173.75h5.7l-2.85 -3.8z"/><path d="M90.20 172.68h5.7l-2.85 -3.8z"/><path d="M91.76 175.48h5.7l-2.85 -3.8z"/><path d="M93.31 174.37h5.7l-2.85 -3.8z"/><path d="M94.87 175.28h5.7l-2.85 -3.8z"/><path d="M96.42 176.30h5.7l-2.85 -3.8z"/><path d="M97.98 179.48h5.7l-2.85 -3.8z"/><path d="M99.53 180.06h5.7l-2.85 -3.8z"/><path d="M101.09 178.91h5.7l-2.85 -3.8z"/><path d="M102.64 182.70h5.7l-2.85 -3.8z"/><path d="M104.20 182.32h5.7l-2.85 -3.8z"/><path d="M105.75 182.32h5.7l-2.85 -3.8z"/><path d="M107.31 185.65h5.7l-2.85 -3.8z"/><path d="M108.86 187.19h5.7l-2.85 -3.8z"/><path d="M110.42 188.60h5.7l-2.85 -3.8z"/><path d="M111.97 188.07h5.7l-2.85 -3.8z"/><path d="M113.53 191.93h5.7l-2.85 -3.8z"/><path d="M115.08 189.69h5.7l-2.85 -3.8z"/><path d="M116.64 192.73h5.7l-2.85 -3.8z"/><path d="M118.19 191.61h5.7l-2.85 -3.8z"/><path d="M119.75 194.64h5.7l-2.85 -3.8z"/><path d="M121.30 197.17h5.7l-2.85 -3.8z"/><path d="M122.86 196.75h5.7l-2.85 -3.8z"/><path d="M124.41 196.35h5.7l-2.85 -3.8z"/><path d="M125.97 196.55h5.7l-2.85 -3.8z"/><path d="M127.52 195.57h5.7l-2.85 -3.8z"/><path d="M129.08 193.75h5.7l-2.85 -3.8z"/><path d="M130.63 195.96h5.7l-2.85 -3.8z"/><path d="M132.19 193.75h5.7l-2.85 -3.8z"/><path d="M133.74 192.57h5.7l-2.85 -3.8z"/><path d="M135.30 191.46h5.7l-2.85 -3.8z"/><path d="M136.85 192.41h5.7l-2.85 -3.8z"/><path d="M138.41 195.38h5.7l-2.85 -3.8z"/><path d="M139.96 194.28h5.7l-2.85 -3.8z"/><path d="M141.52 195.38h5.7l-2.85 -3.8z"/><path d="M143.07 191.15h5.7l-2.85 -3.8z"/><path d="M144.63 194.64h5.7l-2.85 -3.8z"/><path d="M146.18 189.97h5.7l-2.85 -3.8z"/><path d="M147.74 193.23h5.7l-2.85 -3.8z"/><path d="M149.29 191.30h5.7l-2.85 -3.8z"/><path d="M150.85 190.85h5.7l-2.85 -3.8z"/><path d="M152.40 190.26h5.7l-2.85 -3.8z"/><path d="M153.96 190.12h5.7l-2.85 -3.8z"/><path d="M155.51 190.12h5.7l-2.85 -3.8z"/><path d="M157.07 190.12h5.7l-2.85 -3.8z"/><path d="M158.62 187.95h5.7l-2.85 -3.8z"/><path d="M160.18 192.73h5.7l-2.85 -3.8z"/><path d="M161.73 191.61h5.7l-2.85 -3.8z"/><path d="M163.29 193.23h5.7l-2.85 -3.8z"/><path d="M164.84 192.73h5.7l-2.85 -3.8z"/><path d="M166.40 192.57h5.7l-2.85 -3.8z"/><path d="M167.95 192.73h5.7l-2.85 -3.8z"/><path d="M169.51 193.92h5.7l-2.85 -3.8z"/><path d="M171.06 193.92h5.7l-2.85 -3.8z"/><path d="M172.62 195.38h5.7l-2.85 -3.8z"/><path d="M174.17 194.46h5.7l-2.85 -3.8z"/><path d="M175.73 193.23h5.7l-2.85 -3.8z"/><path d="M177.28 193.07h5.7l-2.85 -3.8z"/><path d="M178.84 194.82h5.7l-2.85 -3.8z"/><path d="M180.39 195.96h5.7l-2.85 -3.8z"/><path d="M181.95 193.58h5.7l-2.85 -3.8z"/><path d="M183.50 197.59h5.7l-2.85 -3.8z"/><path d="M185.06 201.85h5.7l-2.85 -3.8z"/><path d="M186.61 196.35h5.7l-2.85 -3.8z"/><path d="M188.17 195.38h5.7l-2.85 -3.8z"/><path d="M189.72 196.96h5.7l-2.85 -3.8z"/><path d="M191.28 195.96h5.7l-2.85 -3.8z"/><path d="M192.83 197.80h5.7l-2.85 -3.8z"/><path d="M194.39 201.59h5.7l-2.85 -3.8z"/><path d="M195.94 200.08h5.7l-2.85 -3.8z"/><path d="M197.50 201.33h5.7l-2.85 -3.8z"/><path d="M199.05 202.12h5.7l-2.85 -3.8z"/><path d="M200.61 202.67h5.7l-2.85 -3.8z"/><path d="M202.16 203.81h5.7l-2.85 -3.8z"/><path d="M203.72 205.34h5.7l-2.85 -3.8z"/><path d="M205.27 206.32h5.7l-2.85 -3.8z"/><path d="M206.83 208.45h5.7l-2.85 -3.8z"/><path d="M208.38 204.71h5.7l-2.85 -3.8z"/><path d="M209.94 207.35h5.7l-2.85 -3.8z"/><path d="M211.49 205.66h5.7l-2.85 -3.8z"/><path d="M213.05 206.32h5.7l-2.85 -3.8z"/><path d="M214.60 207.00h5.7l-2.85 -3.8z"/><path d="M216.16 201.33h5.7l-2.85 -3.8z"/><path d="M217.71 209.21h5.7l-2.85 -3.8z"/><path d="M219.27 206.32h5.7l-2.85 -3.8z"/><path d="M220.82 202.95h5.7l-2.85 -3.8z"/><path d="M222.38 207.00h5.7l-2.85 -3.8z"/><path d="M223.93 204.71h5.7l-2.85 -3.8z"/><path d="M225.49 209.21h5.7l-2.85 -3.8z"/><path d="M227.04 205.99h5.7l-2.85 -3.8z"/><path d="M228.60 212.16h5.7l-2.85 -3.8z"/><path d="M230.15 209.61h5.7l-2.85 -3.8z"/><path d="M231.71 206.32h5.7l-2.85 -3.8z"/><path d="M233.26 211.71h5.7l-2.85 -3.8z"/><path d="M234.82 208.45h5.7l-2.85 -3.8z"/><path d="M236.37 210.42h5.7l-2.85 -3.8z"/><path d="M237.93 213.09h5.7l-2.85 -3.8z"/><path d="M239.48 208.83h5.7l-2.85 -3.8z"/><path d="M241.04 215.11h5.7l-2.85 -3.8z"/><path d="M242.59 214.58h5.7l-2.85 -3.8z"/><path d="M244.15 215.11h5.7l-2.85 -3.8z"/><path d="M245.70 222.86h5.7l-2.85 -3.8z"/><path d="M247.26 214.58h5.7l-2.85 -3.8z"/><path d="M248.81 211.27h5.7l-2.85 -3.8z"/><path d="M250.37 210.01h5.7l-2.85 -3.8z"/><path d="M251.92 219.91h5.7l-2.85 -3.8z"/><path d="M253.48 215.11h5.7l-2.85 -3.8z"/><path d="M255.03 218.59h5.7l-2.85 -3.8z"/><path d="M256.59 219.91h5.7l-2.85 -3.8z"/><path d="M258.14 213.09h5.7l-2.85 -3.8z"/><path d="M259.70 215.65h5.7l-2.85 -3.8z"/><path d="M261.25 220.61h5.7l-2.85 -3.8z"/><path d="M262.81 210.84h5.7l-2.85 -3.8z"/><path d="M264.36 218.59h5.7l-2.85 -3.8z"/><path d="M265.92 222.08h5.7l-2.85 -3.8z"/><path d="M267.47 226.35h5.7l-2.85 -3.8z"/><path d="M269.03 220.61h5.7l-2.85 -3.8z"/><path d="M270.58 229.45h5.7l-2.85 -3.8z"/><path d="M272.14 219.24h5.7l-2.85 -3.8z"/><path d="M273.69 226.35h5.7l-2.85 -3.8z"/><path d="M275.25 220.61h5.7l-2.85 -3.8z"/><path d="M276.80 224.52h5.7l-2.85 -3.8z"/><path d="M278.36 226.35h5.7l-2.85 -3.8z"/><path d="M279.91 222.08h5.7l-2.85 -3.8z"/><path d="M281.47 220.61h5.7l-2.85 -3.8z"/><path d="M283.02 223.67h5.7l-2.85 -3.8z"/><path d="M284.58 229.45h5.7l-2.85 -3.8z"/><path d="M286.13 226.35h5.7l-2.85 -3.8z"/><path d="M287.69 218.59h5.7l-2.85 -3.8z"/><path d="M289.24 220.61h5.7l-2.85 -3.8z"/><path d="M290.80 236.11h5.7l-2.85 -3.8z"/><path d="M292.35 230.61h5.7l-2.85 -3.8z"/><path d="M293.91 225.41h5.7l-2.85 -3.8z"/><path d="M295.46 234.58h5.7l-2.85 -3.8z"/><path d="M297.02 225.41h5.7l-2.85 -3.8z"/><path d="M298.57 231.85h5.7l-2.85 -3.8z"/><path d="M300.13 234.58h5.7l-2.85 -3.8z"/><path d="M301.68 228.36h5.7l-2.85 -3.8z"/><path d="M303.24 230.61h5.7l-2.85 -3.8z"/><path d="M304.79 234.58h5.7l-2.85 -3.8z"/><path d="M306.35 233.17h5.7l-2.85 -3.8z"/><path d="M307.90 234.58h5.7l-2.85 -3.8z"/><path d="M309.46 227.33h5.7l-2.85 -3.8z"/><path d="M311.01 233.17h5.7l-2.85 -3.8z"/><path d="M312.57 234.58h5.7l-2.85 -3.8z"/><path d="M314.12 246.42h5.7l-2.85 -3.8z"/><path d="M315.68 233.17h5.7l-2.85 -3.8z"/><path d="M317.23 237.78h5.7l-2.85 -3.8z"/><path d="M318.79 230.61h5.7l-2.85 -3.8z"/><path d="M320.34 228.36h5.7l-2.85 -3.8z"/><path d="M321.90 231.85h5.7l-2.85 -3.8z"/><path d="M323.45 233.17h5.7l-2.85 -3.8z"/><path d="M325.01 237.78h5.7l-2.85 -3.8z"/><path d="M326.56 237.78h5.7l-2.85 -3.8z"/><path d="M328.12 243.87h5.7l-2.85 -3.8z"/><path d="M329.67 243.87h5.7l-2.85 -3.8z"/><path d="M331.23 237.78h5.7l-2.85 -3.8z"/><path d="M332.78 246.42h5.7l-2.85 -3.8z"/><path d="M334.34 236.11h5.7l-2.85 -3.8z"/><path d="M335.89 236.11h5.7l-2.85 -3.8z"/><path d="M337.45 236.11h5.7l-2.85 -3.8z"/><path d="M339.00 241.62h5.7l-2.85 -3.8z"/><path d="M340.56 243.87h5.7l-2.85 -3.8z"/><path d="M342.11 241.62h5.7l-2.85 -3.8z"/><path d="M343.67 246.42h5.7l-2.85 -3.8z"/><path d="M345.22 237.78h5.7l-2.85 -3.8z"/><path d="M346.78 252.86h5.7l-2.85 -3.8z"/><path d="M348.33 246.42h5.7l-2.85 -3.8z"/><path d="M349.89 243.87h5.7l-2.85 -3.8z"/><path d="M351.44 249.37h5.7l-2.85 -3.8z"/><path d="M353.00 249.37h5.7l-2.85 -3.8z"/><path d="M354.55 241.62h5.7l-2.85 -3.8z"/><path d="M356.11 249.37h5.7l-2.85 -3.8z"/><path d="M357.66 239.60h5.7l-2.85 -3.8z"/><path d="M359.22 257.12h5.7l-2.85 -3.8z"/><path d="M360.77 246.42h5.7l-2.85 -3.8z"/></g>
</g>
<rect x="134.4" y="131.5" width="229.99999999999997" height="35.5" fill="#fff" stroke="#333" stroke-width="1"/>
<ellipse cx="163.1" cy="137.3" rx="2.85" ry="1.7" fill="#0000ff"/>
<rect x="160.35" y="147.5" width="5.5" height="3.3" fill="#00ff00"/>
<path d="M160.25 163.0h5.7l-2.85 -3.8z" fill="#ff0000"/>
<text x="192.3" y="140.1" font-size="9.4" text-anchor="start" textLength="33" lengthAdjust="spacingAndGlyphs" >Pions</text>
<text x="192.3" y="151.9" font-size="9.4" text-anchor="start" textLength="150.8" lengthAdjust="spacingAndGlyphs" >Electrons without radiator</text>
<text x="192.3" y="163.6" font-size="9.4" text-anchor="start" textLength="132.6" lengthAdjust="spacingAndGlyphs" >Electrons with radiator</text>
<text x="69.0" y="122.9" font-size="16" text-anchor="start" textLength="245.5" lengthAdjust="spacingAndGlyphs" >Straw differential spectra</text>
<text x="79.0" y="339.4" font-size="11.6" text-anchor="start" textLength="259.3" lengthAdjust="spacingAndGlyphs" >Energy deposition in straw, keV</text>
<text transform="translate(17.6 282.4) rotate(-90) scale(1 1.55)" font-size="12" textLength="119.7" lengthAdjust="spacingAndGlyphs">Probability per 0.1 keV</text>
<text x="53.40" y="322.0" font-size="8.7" text-anchor="middle" textLength="6.8" lengthAdjust="spacingAndGlyphs" stroke="#000" stroke-width="0.1">0</text>
<text x="84.50" y="322.0" font-size="8.7" text-anchor="middle" textLength="6.8" lengthAdjust="spacingAndGlyphs" stroke="#000" stroke-width="0.1">2</text>
<text x="115.60" y="322.0" font-size="8.7" text-anchor="middle" textLength="6.8" lengthAdjust="spacingAndGlyphs" stroke="#000" stroke-width="0.1">4</text>
<text x="146.70" y="322.0" font-size="8.7" text-anchor="middle" textLength="6.8" lengthAdjust="spacingAndGlyphs" stroke="#000" stroke-width="0.1">6</text>
<text x="177.80" y="322.0" font-size="8.7" text-anchor="middle" textLength="6.8" lengthAdjust="spacingAndGlyphs" stroke="#000" stroke-width="0.1">8</text>
<text x="208.90" y="322.0" font-size="8.7" text-anchor="middle" textLength="13.5" lengthAdjust="spacingAndGlyphs" stroke="#000" stroke-width="0.1">10</text>
<text x="240.00" y="322.0" font-size="8.7" text-anchor="middle" textLength="13.5" lengthAdjust="spacingAndGlyphs" stroke="#000" stroke-width="0.1">12</text>
<text x="271.10" y="322.0" font-size="8.7" text-anchor="middle" textLength="13.5" lengthAdjust="spacingAndGlyphs" stroke="#000" stroke-width="0.1">14</text>
<text x="302.20" y="322.0" font-size="8.7" text-anchor="middle" textLength="13.5" lengthAdjust="spacingAndGlyphs" stroke="#000" stroke-width="0.1">16</text>
<text x="333.30" y="322.0" font-size="8.7" text-anchor="middle" textLength="13.5" lengthAdjust="spacingAndGlyphs" stroke="#000" stroke-width="0.1">18</text>
<text x="364.40" y="322.0" font-size="8.7" text-anchor="middle" textLength="13.5" lengthAdjust="spacingAndGlyphs" stroke="#000" stroke-width="0.1">20</text>
<text x="28.6" y="311.49" font-size="8.6" text-anchor="start" textLength="13.2" lengthAdjust="spacingAndGlyphs" stroke="#000" stroke-width="0.1">10</text>
<text x="41.8" y="307.89" font-size="6.4" text-anchor="start" textLength="8.8" lengthAdjust="spacingAndGlyphs" >−5</text>
<text x="28.6" y="267.46" font-size="8.6" text-anchor="start" textLength="13.2" lengthAdjust="spacingAndGlyphs" stroke="#000" stroke-width="0.1">10</text>
<text x="41.8" y="263.86" font-size="6.4" text-anchor="start" textLength="8.8" lengthAdjust="spacingAndGlyphs" >−4</text>
<text x="28.6" y="223.43" font-size="8.6" text-anchor="start" textLength="13.2" lengthAdjust="spacingAndGlyphs" stroke="#000" stroke-width="0.1">10</text>
<text x="41.8" y="219.83" font-size="6.4" text-anchor="start" textLength="8.8" lengthAdjust="spacingAndGlyphs" >−3</text>
<text x="28.6" y="179.40" font-size="8.6" text-anchor="start" textLength="13.2" lengthAdjust="spacingAndGlyphs" stroke="#000" stroke-width="0.1">10</text>
<text x="41.8" y="175.80" font-size="6.4" text-anchor="start" textLength="8.8" lengthAdjust="spacingAndGlyphs" >−2</text>
</g></svg>
</body></html>
